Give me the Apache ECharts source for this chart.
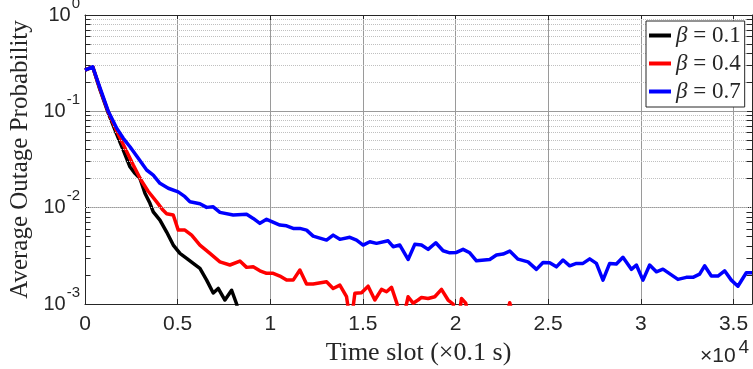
<!DOCTYPE html>
<html>
<head>
<meta charset="utf-8">
<script src="https://cdn.jsdelivr.net/npm/echarts@6/dist/echarts.min.js"></script>
<style>
  html, body { margin: 0; padding: 0; background: #fff; }
  #chart { width: 753px; height: 369px; }
</style>
</head>
<body>
<div id="chart"></div>
<script>
// time slot vs average outage probability
var seriesNames = ['β = 0.1', 'β = 0.4', 'β = 0.7'];
var seriesColors = ['#000000', '#ff0000', '#0000ff'];

var timeBlack = [0, 415, 809, 1257, 1710, 2066, 2427, 2697, 2967, 3236, 3506, 3684, 4045, 4407,
  4763, 5124, 5486, 5842, 6203, 6565, 6921, 7190, 7552, 7913, 8183, 8415];
var probBlack = [0.268, 0.290, 0.168, 0.096, 0.058, 0.0396, 0.0266, 0.0227, 0.0201, 0.0141, 0.0111,
  0.00906, 0.00743, 0.00558, 0.00409, 0.00335, 0.00298, 0.00264, 0.00234, 0.00177, 0.00130,
  0.00145, 0.00110, 0.00139, 0.00100, 0.0006];

var timeRed = [0, 415, 809, 1257, 1710, 2158, 2605, 3020, 3398, 3867, 4207, 4407, 4763, 5033, 5394,
  5755, 6203, 6743, 7282, 7821, 8361, 8722, 9078, 9440, 9801, 10157, 10518, 10880, 11236, 11597,
  11958, 12315, 13037, 13393, 13755, 14116, 14348, 14564, 14925, 15281, 15643, 16004, 16274,
  16544, 16830, 17099, 17439, 17709, 17978, 18162, 18518, 18879, 19240, 19597, 19866, 20120,
  20319, 20551, 20767, 21846, 22709, 22925, 23141, 24000];
var probRed = [0.268, 0.290, 0.1705, 0.0984, 0.0624, 0.0416, 0.0277, 0.0194, 0.0149, 0.0115,
  0.00944, 0.00865, 0.00838, 0.00585, 0.00585, 0.00519, 0.00409, 0.00335, 0.00274, 0.00254,
  0.00279, 0.00240, 0.00243, 0.00221, 0.00208, 0.00208, 0.00195, 0.00177, 0.00177, 0.00225,
  0.00161, 0.00161, 0.00170, 0.00145, 0.00157, 0.00119, 0.0006, 0.00129, 0.00131, 0.00153,
  0.00110, 0.00142, 0.00134, 0.00149, 0.00102, 0.0006, 0.00119, 0.00102, 0.00110, 0.00117,
  0.00114, 0.00119, 0.00142, 0.00110, 0.00100, 0.0006, 0.00114, 0.00102, 0.0006, 0.0006,
  0.0007, 0.00103, 0.0007, 0.0006];

var timeBlue = [0, 415, 809, 1257, 1710, 2066, 2427, 2875, 3327, 3684, 4045, 4493, 5030, 5394, 5664,
  6203, 6565, 6921, 7282, 7999, 8722, 9078, 9440, 9801, 10518, 10880, 11236, 11597, 11958, 12315,
  13037, 13393, 13755, 14294, 14656, 15012, 15373, 15734, 16360, 16630, 16991, 17439, 17800,
  18162, 18518, 18933, 19327, 19688, 20050, 20406, 20767, 21128, 21846, 22207, 22563, 22925,
  23372, 23912, 24365, 24721, 25082, 25443, 25800, 26161, 26522, 26878, 27240, 27601, 27957,
  28319, 28679, 29035, 29489, 29759, 30115, 30476, 30838, 31194, 32003, 32456, 32812, 33173,
  33443, 33805, 34161, 34522, 34883, 35239, 35692, 36000];
var probBlue = [0.268, 0.290, 0.175, 0.100, 0.0666, 0.0525, 0.0429, 0.0325, 0.0246, 0.0218, 0.0179,
  0.0159, 0.0146, 0.0130, 0.0115, 0.0110, 0.01007, 0.0102, 0.00894, 0.00838, 0.00852, 0.00774,
  0.00687, 0.00756, 0.00659, 0.00648, 0.00609, 0.00609, 0.00585, 0.00507, 0.00461, 0.00519,
  0.00469, 0.00492, 0.00461, 0.00409, 0.00443, 0.00426, 0.00453, 0.00393, 0.00409, 0.00290,
  0.00416, 0.00409, 0.00369, 0.00432, 0.00357, 0.00340, 0.00343, 0.00369, 0.00340, 0.00281,
  0.00290, 0.00322, 0.00330, 0.00354, 0.00292, 0.00274, 0.00229, 0.00270, 0.00268, 0.00243,
  0.00286, 0.00249, 0.00264, 0.00264, 0.00294, 0.00264, 0.00177, 0.00264, 0.00260, 0.00305,
  0.00229, 0.00254, 0.00177, 0.00254, 0.00216, 0.00230, 0.00180, 0.00189, 0.00189, 0.00204,
  0.00249, 0.00195, 0.00195, 0.00221, 0.00177, 0.00153, 0.00211, 0.00211];

// minor log grid: 2..9 times each decade
var minorSteps = [2, 3, 4, 5, 6, 7, 8, 9];
var decades = [0.001, 0.01, 0.1];

var xMax = 36000;

function pairs(t, p) {
  return t.map(function (v, i) { return [v, p[i]]; });
}

var minorLines = [];
var minorTicks = [];
decades.forEach(function (d) {
  minorSteps.forEach(function (s) {
    var v = +(d * s).toPrecision(3);
    minorLines.push({ yAxis: v });
    minorTicks.push([{ coord: [0, v] }, { coord: [300, v] }]);
    minorTicks.push([{ coord: [xMax - 300, v] }, { coord: [xMax, v] }]);
  });
});

var axisColor = '#262626';
var sansFont = 'Liberation Sans';
var serifFont = 'Liberation Serif';

// "10" with a raised exponent (padding under the exponent lifts it)
var powRich = {
  b: { fontFamily: sansFont, fontSize: 20, lineHeight: 20, verticalAlign: 'bottom', color: axisColor },
  e: { fontFamily: sansFont, fontSize: 15, lineHeight: 15, verticalAlign: 'bottom', padding: [0, 0, 14, 1], color: axisColor }
};

var chart = echarts.init(document.getElementById('chart'));

var lineSeries = [pairs(timeBlack, probBlack), pairs(timeRed, probRed), pairs(timeBlue, probBlue)]
  .map(function (data, i) {
    return {
      name: seriesNames[i],
      type: 'line',
      data: data,
      showSymbol: false,
      clip: true,
      z: 3 + i,
      lineStyle: { width: 3.5, color: seriesColors[i], join: 'round' },
      itemStyle: { color: seriesColors[i] }
    };
  });

chart.setOption({
  animation: false,
  backgroundColor: '#fff',
  grid: { left: 85, right: 1, top: 15, bottom: 65, containLabel: false, outerBoundsMode: 'none' },
  legend: {
    data: seriesNames.map(function (n, i) {
      return { name: n, itemStyle: { color: seriesColors[i], borderWidth: 0, decal: 'none' } };
    }),
    orient: 'vertical',
    left: 646,
    top: 21,
    padding: [3, 4, 4, 3],
    itemGap: 5,
    itemWidth: 22,
    itemHeight: 4,
    icon: 'rect',
    backgroundColor: '#fff',
    borderColor: axisColor,
    borderWidth: 1,
    borderRadius: 0,
    z: 10,
    textStyle: {
      fontFamily: serifFont, fontSize: 23, color: axisColor, lineHeight: 22,
      rich: { g: { fontFamily: serifFont, fontStyle: 'italic', fontSize: 23, lineHeight: 22, color: axisColor } }
    },
    formatter: function (name) {
      return '{g|β} = ' + name.split('= ')[1];
    }
  },
  xAxis: [{
    type: 'value',
    min: 0,
    max: xMax,
    interval: 5000,
    name: 'Time slot (×0.1 s)',
    nameLocation: 'middle',
    nameGap: 23,
    nameTextStyle: { fontFamily: serifFont, fontSize: 26, color: axisColor },
    axisLine: { show: true, lineStyle: { color: axisColor, width: 1 } },
    axisTick: { show: true, inside: true, length: 5, lineStyle: { color: axisColor } },
    axisLabel: {
      margin: 10, fontFamily: sansFont, fontSize: 21, color: axisColor,
      showMaxLabel: false,
      formatter: function (v) { return String(v / 10000); }
    },
    splitLine: { show: true, lineStyle: { color: '#9a9a9a', width: 1 } }
  }, {
    type: 'value',
    position: 'top',
    min: 0,
    max: xMax,
    interval: 5000,
    axisLine: { show: true, onZero: false, lineStyle: { color: axisColor, width: 1 } },
    axisTick: { show: true, inside: true, length: 5, lineStyle: { color: axisColor } },
    axisLabel: { show: false },
    splitLine: { show: false }
  }],
  yAxis: [{
    type: 'log',
    logBase: 10,
    min: 0.001,
    max: 1,
    name: 'Average Outage Probability',
    nameLocation: 'middle',
    nameGap: 52,
    nameTextStyle: { fontFamily: serifFont, fontSize: 25, color: axisColor },
    axisLine: { show: true, lineStyle: { color: axisColor, width: 1 } },
    axisTick: { show: true, inside: true, length: 5, lineStyle: { color: axisColor } },
    axisLabel: {
      margin: 5,
      color: axisColor,
      formatter: function (v) {
        return '{b|10}{e|' + Math.round(Math.log10(v)) + '}';
      },
      rich: powRich
    },
    splitLine: { show: true, lineStyle: { color: '#9a9a9a', width: 1 } }
  }, {
    type: 'log',
    logBase: 10,
    min: 0.001,
    max: 1,
    position: 'right',
    axisLine: { show: true, onZero: false, lineStyle: { color: axisColor, width: 1 } },
    axisTick: { show: true, inside: true, length: 5, lineStyle: { color: axisColor } },
    axisLabel: { show: false },
    splitLine: { show: false }
  }],
  graphic: [{
    type: 'text',
    left: 700,
    top: 338,
    style: {
      text: '{b|×10}{e|4}',
      rich: {
        b: { fontFamily: sansFont, fontSize: 21, lineHeight: 21, verticalAlign: 'bottom', fill: axisColor },
        e: { fontFamily: sansFont, fontSize: 19, lineHeight: 19, verticalAlign: 'bottom', padding: [0, 0, 10, 3], fill: axisColor }
      }
    }
  }],
  series: [{
    name: 'minor-grid',
    type: 'line',
    data: [],
    z: 1,
    silent: true,
    markLine: {
      silent: true,
      symbol: 'none',
      label: { show: false },
      lineStyle: { color: '#c0c0c0', type: 'dotted', width: 1 },
      data: minorLines
    }
  }, {
    name: 'minor-ticks',
    type: 'line',
    data: [],
    z: 2,
    silent: true,
    markLine: {
      silent: true,
      symbol: 'none',
      label: { show: false },
      lineStyle: { color: axisColor, type: 'solid', width: 1 },
      data: minorTicks
    }
  }].concat(lineSeries)
});
</script>
</body>
</html>
